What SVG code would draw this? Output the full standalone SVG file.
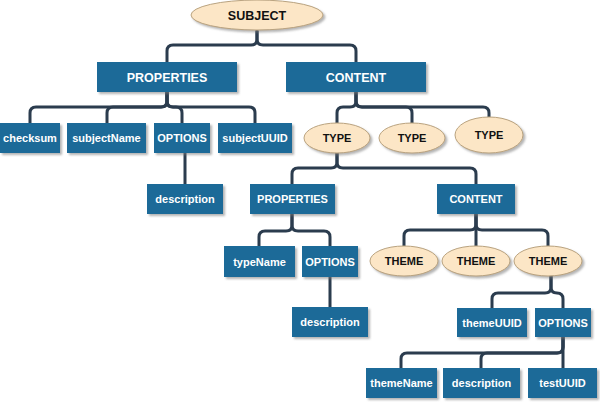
<svg xmlns="http://www.w3.org/2000/svg" width="600" height="402" viewBox="0 0 600 402">
<defs>
<filter id="sh" x="-20%" y="-30%" width="140%" height="170%">
<feDropShadow dx="2" dy="2" stdDeviation="1.2" flood-color="#777" flood-opacity="0.55"/>
</filter>
<style>
.box{fill:#1b6a98;filter:url(#sh)}
.ell{fill:#fce6c6;stroke:#b9a27e;stroke-width:1;filter:url(#sh)}
.bt{fill:#fff;font-family:"Liberation Sans",Arial,sans-serif;font-weight:bold;font-size:11px;text-anchor:middle}
.et{fill:#111;font-family:"Liberation Sans",Arial,sans-serif;font-weight:bold;font-size:11px;text-anchor:middle}
.big{font-size:12.5px}
.c{fill:none;stroke:#2b3c4e;stroke-width:3;stroke-linejoin:round;stroke-linecap:round}
</style>
</defs>
<rect width="600" height="402" fill="#fff"/>
<g id="connectors" class="c">
<path d="M257,31 V39 Q257,45 251,45 H173 Q167,45 167,51 V62"/>
<path d="M257,31 V39 Q257,45 263,45 H350 Q356,45 356,51 V62"/>
<path d="M167,92 V101 Q167,107 161,107 H36 Q30,107 30,113 V123"/>
<path d="M167,92 V101 Q167,107 161,107 H113 Q107,107 107,113 V123"/>
<path d="M167,92 V101 Q167,107 173,107 H176 Q182,107 182,113 V123"/>
<path d="M167,92 V101 Q167,107 173,107 H249 Q255,107 255,113 V123"/>
<path d="M185,153 V184"/>
<path d="M356,92 V101 Q356,107 350,107 H343 Q337,107 337,113 V125"/>
<path d="M356,92 V101 Q356,107 362,107 H406 Q412,107 412,113 V125"/>
<path d="M356,92 V101 Q356,107 362,107 H483 Q489,107 489,113 V120"/>
<path d="M337,150 V162 Q337,168 331,168 H298 Q292,168 292,174 V184"/>
<path d="M337,150 V162 Q337,168 343,168 H470 Q476,168 476,174 V184"/>
<path d="M292,214 V225 Q292,231 286,231 H265 Q259,231 259,237 V246"/>
<path d="M292,214 V225 Q292,231 298,231 H324 Q330,231 330,237 V246"/>
<path d="M330,277 V307"/>
<path d="M476,214 V224 Q476,230 470,230 H410 Q404,230 404,236 V248"/>
<path d="M476,214 V248"/>
<path d="M476,214 V224 Q476,230 482,230 H542 Q548,230 548,236 V248"/>
<path d="M551,274 V287 Q551,293 545,293 H498 Q492,293 492,299 V308"/>
<path d="M551,274 V287 Q551,293 557,293 Q563,293 563,299 V308"/>
<path d="M563,337 V347 Q563,353 557,353 H407 Q401,353 401,359 V368"/>
<path d="M563,337 V347 Q563,353 557,353 H487 Q481,353 481,359 V368"/>
<path d="M563,337 V368"/>
</g>
<g id="subject"><ellipse class="ell" cx="257" cy="15" rx="66" ry="15"/><text class="et big" x="257" y="19.5">SUBJECT</text></g>
<g id="properties"><rect class="box" x="97" y="62" width="140" height="30"/><text class="bt big" x="167" y="81.5">PROPERTIES</text></g>
<g id="content"><rect class="box" x="286" y="62" width="140" height="30"/><text class="bt big" x="356" y="81.5">CONTENT</text></g>
<g id="checksum"><rect class="box" x="0" y="123" width="60" height="30"/><text class="bt" x="30" y="142">checksum</text></g>
<g id="subjectName"><rect class="box" x="67" y="123" width="79" height="30"/><text class="bt" x="106.5" y="142">subjectName</text></g>
<g id="options1"><rect class="box" x="154" y="123" width="56" height="30"/><text class="bt" x="182" y="142">OPTIONS</text></g>
<g id="subjectUUID"><rect class="box" x="218" y="123" width="74" height="30"/><text class="bt" x="255" y="142">subjectUUID</text></g>
<g id="description1"><rect class="box" x="147" y="184" width="76" height="30"/><text class="bt" x="185" y="203">description</text></g>
<g id="type1"><ellipse class="ell" cx="337" cy="138" rx="33" ry="15"/><text class="et" x="337" y="142">TYPE</text></g>
<g id="type2"><ellipse class="ell" cx="412" cy="138" rx="33" ry="15"/><text class="et" x="412" y="142">TYPE</text></g>
<g id="type3"><ellipse class="ell" cx="489" cy="135" rx="34" ry="18"/><text class="et" x="489" y="139">TYPE</text></g>
<g id="properties2"><rect class="box" x="250" y="184" width="85" height="30"/><text class="bt" x="292.5" y="203">PROPERTIES</text></g>
<g id="content2"><rect class="box" x="437" y="184" width="78" height="30"/><text class="bt" x="476" y="203">CONTENT</text></g>
<g id="typeName"><rect class="box" x="224" y="246" width="71" height="31"/><text class="bt" x="259.5" y="265.5">typeName</text></g>
<g id="options2"><rect class="box" x="302" y="246" width="56" height="31"/><text class="bt" x="330" y="265.5">OPTIONS</text></g>
<g id="description2"><rect class="box" x="292" y="307" width="76" height="30"/><text class="bt" x="330" y="326">description</text></g>
<g id="theme1"><ellipse class="ell" cx="404" cy="261" rx="34" ry="15"/><text class="et" x="404" y="265">THEME</text></g>
<g id="theme2"><ellipse class="ell" cx="476" cy="261" rx="34" ry="15"/><text class="et" x="476" y="265">THEME</text></g>
<g id="theme3"><ellipse class="ell" cx="548" cy="261" rx="34" ry="15"/><text class="et" x="548" y="265">THEME</text></g>
<g id="themeUUID"><rect class="box" x="457" y="308" width="70" height="29"/><text class="bt" x="492" y="326.5">themeUUID</text></g>
<g id="options3"><rect class="box" x="535" y="308" width="56" height="29"/><text class="bt" x="563" y="326.5">OPTIONS</text></g>
<g id="themeName"><rect class="box" x="366" y="368" width="71" height="30"/><text class="bt" x="401.5" y="387">themeName</text></g>
<g id="description3"><rect class="box" x="443" y="368" width="77" height="30"/><text class="bt" x="481.5" y="387">description</text></g>
<g id="testUUID"><rect class="box" x="528" y="368" width="69" height="30"/><text class="bt" x="562.5" y="387">testUUID</text></g>
</svg>
